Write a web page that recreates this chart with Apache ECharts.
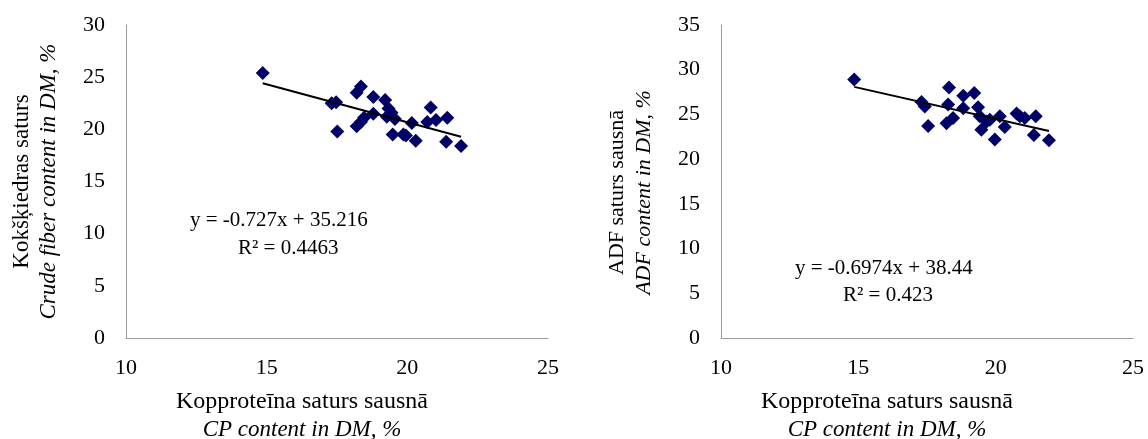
<!DOCTYPE html>
<html>
<head>
<meta charset="utf-8">
<script src="https://cdn.jsdelivr.net/npm/echarts@6/dist/echarts.min.js"></script>
<style>
html,body{margin:0;padding:0;background:#fff;}
#c{width:1148px;height:439px;}
</style>
</head>
<body>
<div id="c"></div>
<script>
// Left chart: crude fiber vs CP
const cpLeft = [14.86, 17.31, 17.47, 17.51, 18.20, 18.20, 18.35, 18.35, 18.46, 18.79, 18.79, 19.21, 19.27, 19.33, 19.44, 19.56, 19.48, 19.86, 19.95, 20.16, 20.30, 20.71, 20.83, 21.02, 21.42, 21.38, 21.91];
const fiber   = [25.4, 22.5, 22.6, 19.8, 20.3, 23.5, 24.1, 20.7, 21.1, 23.1, 21.5, 22.8, 21.2, 22.0, 21.6, 21.0, 19.5, 19.5, 19.4, 20.6, 18.9, 20.7, 22.1, 20.9, 21.1, 18.8, 18.4];
// Right chart: ADF vs CP
const cpRight = [14.85, 17.30, 17.42, 17.54, 18.30, 18.27, 18.21, 18.45, 18.82, 18.82, 19.22, 19.36, 19.42, 19.48, 19.67, 19.79, 19.97, 20.15, 20.33, 20.76, 20.88, 21.06, 21.46, 21.39, 21.94];
const adf     = [28.9, 26.4, 25.9, 23.7, 28.0, 26.1, 24.0, 24.6, 27.1, 25.7, 27.4, 25.8, 24.8, 23.3, 24.2, 24.4, 22.2, 24.8, 23.6, 25.1, 24.8, 24.6, 24.8, 22.7, 22.1];

const trendLeft = {slope: -0.727, intercept: 35.216, eq: 'y = -0.727x + 35.216', r2: 'R² = 0.4463'};
const trendRight = {slope: -0.6974, intercept: 38.44, eq: 'y = -0.6974x + 38.44', r2: 'R² = 0.423'};

const labels = {
  xMain: 'Kopproteīna saturs sausnā', xSub: 'CP content in DM, %',
  yLeftMain: 'Kokšķiedras saturs', yLeftSub: 'Crude fiber content in DM, %',
  yRightMain: 'ADF saturs sausnā', yRightSub: 'ADF content in DM, %'
};

const FONT = 'Liberation Serif';
const FS_TICK = 22;
const AXC = '#9a9a9a';
const MARK = '#000066';

function pairs(xs, ys){ return xs.map((x,i)=>[x, ys[i]]); }
function trend(xs, t){
  const lo = Math.min(...xs), hi = Math.max(...xs);
  return [[lo, t.slope*lo + t.intercept], [hi, t.slope*hi + t.intercept]];
}

function xAxis(idx, shiftPad){
  return {
    gridIndex: idx, type: 'value', min: 10, max: 25, interval: 5,
    axisLine: {show: true, onZero: false, lineStyle: {color: AXC, width: 1}},
    axisTick: {show: false}, splitLine: {show: false},
    axisLabel: {fontFamily: FONT, fontSize: FS_TICK, color: '#000', margin: 19},
    name: '{a|' + labels.xMain + '}\n{b|' + labels.xSub + '}',
    nameLocation: 'middle', nameGap: 50,
    nameTextStyle: {
      padding: [0, shiftPad, 0, 0],
      rich: {
        a: {fontFamily: FONT, fontSize: 24, color: '#000', lineHeight: 28},
        b: {fontFamily: FONT, fontSize: 23, fontStyle: 'italic', color: '#000', lineHeight: 28}
      }
    }
  };
}
function yAxis(idx, max, main, sub, gap, shiftPad, fs){
  return {
    gridIndex: idx, type: 'value', min: 0, max: max, interval: 5,
    axisLine: {show: true, lineStyle: {color: AXC, width: 1}},
    axisTick: {show: false}, splitLine: {show: false},
    axisLabel: {fontFamily: FONT, fontSize: FS_TICK, color: '#000', margin: 21},
    name: '{a|' + main + '}\n{b|' + sub + '}',
    nameLocation: 'middle', nameGap: gap, nameRotate: 90,
    nameTextStyle: {
      padding: [0, shiftPad, 0, 0],
      rich: {
        a: {fontFamily: FONT, fontSize: fs, color: '#000', lineHeight: 27},
        b: {fontFamily: FONT, fontSize: fs, fontStyle: 'italic', color: '#000', lineHeight: 27}
      }
    }
  };
}

function eqText(x, y, txt, fs){
  return {type: 'text', left: x, top: y, style: {text: txt, font: fs + 'px "' + FONT + '"', fill: '#000'}};
}

const chart = echarts.init(document.getElementById('c'), null, {renderer: 'canvas'});
chart.setOption({
  animation: false,
  backgroundColor: '#fff',
  grid: [
    {left: 126, top: 25, width: 422, height: 313, containLabel: false, outerBoundsMode: 'none'},
    {left: 721, top: 25, width: 412, height: 313, containLabel: false, outerBoundsMode: 'none'}
  ],
  xAxis: [xAxis(0, 70), xAxis(1, 80)],
  yAxis: [
    yAxis(0, 30, labels.yLeftMain, labels.yLeftSub, 64, 0, 23),
    yAxis(1, 35, labels.yRightMain, labels.yRightSub, 63, 22, 22)
  ],
  series: [
    {type: 'line', xAxisIndex: 0, yAxisIndex: 0, data: trend(cpLeft, trendLeft), showSymbol: false, symbol: 'none',
     lineStyle: {color: '#000', width: 2}, z: 3},
    {type: 'scatter', xAxisIndex: 0, yAxisIndex: 0, data: pairs(cpLeft, fiber), symbol: 'diamond', symbolSize: 14,
     itemStyle: {color: MARK, opacity: 1}, z: 2},
    {type: 'line', xAxisIndex: 1, yAxisIndex: 1, data: trend(cpRight, trendRight), showSymbol: false, symbol: 'none',
     lineStyle: {color: '#000', width: 2}, z: 3},
    {type: 'scatter', xAxisIndex: 1, yAxisIndex: 1, data: pairs(cpRight, adf), symbol: 'diamond', symbolSize: 14,
     itemStyle: {color: MARK, opacity: 1}, z: 2}
  ],
  graphic: [
    eqText(190, 210, trendLeft.eq, 21),
    eqText(238, 238, trendLeft.r2, 21),
    eqText(795, 258, trendRight.eq, 21),
    eqText(843, 285, trendRight.r2, 21)
  ]
});
</script>
</body>
</html>
